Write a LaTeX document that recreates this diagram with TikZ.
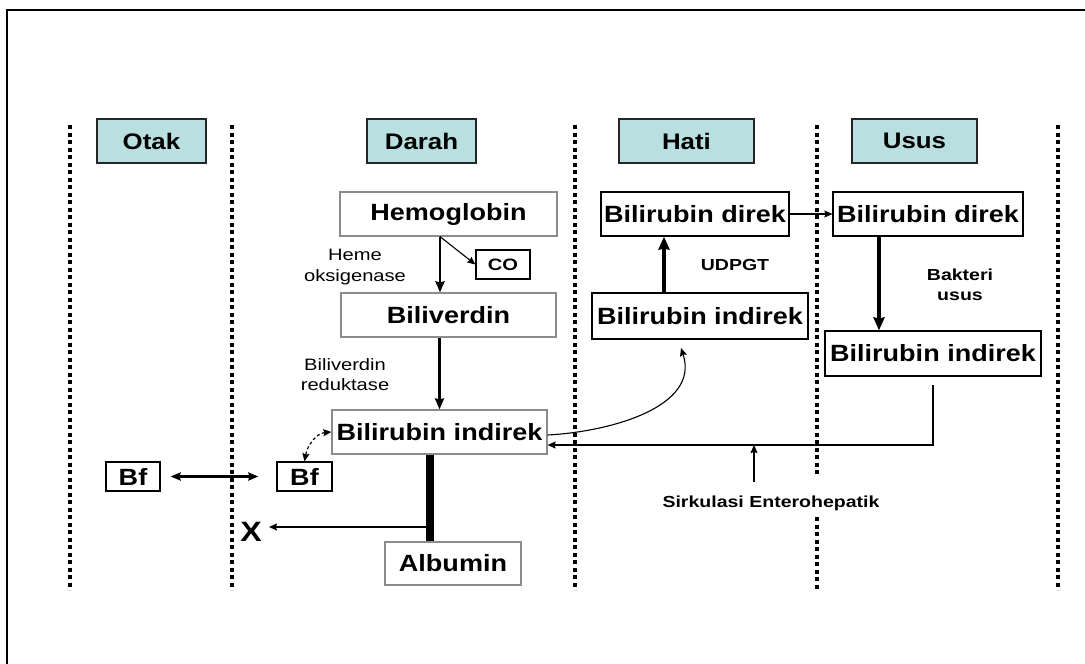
\documentclass[tikz,border=0pt]{standalone}
\usepackage{fontspec}
\setmainfont{Liberation Sans}
\newfontfamily\bigf[FakeStretch=1.15]{Liberation Sans}
\newfontfamily\smf[FakeStretch=1.22]{Liberation Sans}
\usetikzlibrary{arrows.meta,calc}
\definecolor{hdrcol}{HTML}{B9DFE0}
\definecolor{boxgray}{HTML}{8C8C8C}
\tikzset{
  hdr/.style={draw=black!85, fill=hdrcol, line width=1.2pt, minimum height=44pt, inner sep=0pt,
    font=\bigf\bfseries\fontsize{22.5}{27}\selectfont},
  gbox/.style={draw=boxgray, line width=1.2pt, inner sep=0pt,
    font=\bigf\bfseries\fontsize{23.5}{27}\selectfont},
  kbox/.style={draw=black, line width=1.2pt, inner sep=0pt,
    font=\bigf\bfseries\fontsize{23.5}{27}\selectfont},
  sbox/.style={draw=black, line width=1.2pt, inner sep=0pt,
    font=\smf\bfseries\fontsize{16.5}{18}\selectfont},
  lbl/.style={align=center, inner sep=0pt, font=\smf\fontsize{16.5}{20.5}\selectfont},
  blbl/.style={align=center, inner sep=0pt, font=\smf\bfseries\fontsize{16}{20}\selectfont},
  sep/.style={line width=4pt, dash pattern=on 4pt off 3.5pt},
  thin/.style={line width=1.3pt, -{Stealth[length=8pt,width=7pt,inset=1pt]}},
  mid/.style={line width=2.6pt, -{Stealth[length=11pt,width=9pt,inset=1pt]}},
  thick/.style={line width=3.6pt, -{Stealth[length=13pt,width=11pt,inset=1pt]}},
}
\begin{document}
\begin{tikzpicture}[x=1pt,y=-1pt]
\useasboundingbox (0,0) rectangle (1085,664);
% frame (top and left only)
\draw[line width=2.5pt] (1085,10) -- (7,10) -- (7,664);
% separators
\draw[sep] (70,125) -- (70,590);
\draw[sep] (232,125) -- (232,590);
\draw[sep] (575,125) -- (575,590);
\draw[sep] (817,125) -- (817,477);
\draw[sep] (817,517) -- (817,590);
\draw[sep] (1058,125) -- (1058,590);
% headers
\node[hdr, minimum width=109pt] (otak) at (151.5,141) {Otak};
\node[hdr, minimum width=109pt] (darah) at (421.5,141) {Darah};
\node[hdr, minimum width=135pt] (hati) at (686.5,141) {Hati};
\node[hdr, minimum width=125pt] (usus) at (914.5,141) {Usus};
% darah column
\node[gbox, minimum width=217pt, minimum height=44pt] (hemo) at (448.5,214) {Hemoglobin};
\node[sbox, minimum width=54pt, minimum height=29pt] (co) at (503,264.5) {CO};
\node[gbox, minimum width=215pt, minimum height=44pt] (biliv) at (448.5,315) {Biliverdin};
\node[gbox, minimum width=215pt, minimum height=44pt] (bilr) at (439.5,432) {Bilirubin indirek};
\node[gbox, minimum width=136pt, minimum height=43pt] (alb) at (453,563.5) {Albumin};
\node[kbox, minimum width=55pt, minimum height=29pt] (bfr) at (304.5,476.5) {Bf};
\node[kbox, minimum width=54pt, minimum height=29pt] (bfl) at (133,476.5) {Bf};
\node[inner sep=0pt, font=\bigf\bfseries\fontsize{28}{30}\selectfont] (x) at (251,532) {X};
\node[lbl] (heme) at (355,267) {Heme\\oksigenase};
\node[lbl] (bvr) at (345,374.5) {Biliverdin\\reduktase};
% hati column
\node[kbox, minimum width=188pt, minimum height=44pt] (hdir) at (695,214) {Bilirubin direk};
\node[kbox, minimum width=216pt, minimum height=46pt] (hind) at (700,316) {Bilirubin indirek};
\node[blbl] (udpgt) at (735,265) {UDPGT};
% usus column
\node[kbox, minimum width=190pt, minimum height=44pt] (udir) at (928,214) {Bilirubin direk};
\node[kbox, minimum width=216pt, minimum height=45pt] (uind) at (933,353.5) {Bilirubin indirek};
\node[blbl] (bakt) at (960,285) {Bakteri\\usus};
\node[blbl] (sirk) at (771,503) {Sirkulasi Enterohepatik};
% coordinates
\coordinate (hs) at ([xshift=-8.5pt]hemo.south);
\coordinate (bar) at ([xshift=-9.5pt]bilr.south);
\coordinate (xa) at (430,527);
\coordinate (ent) at (933,385);
\coordinate (entc) at (933,445);
\coordinate (sk) at (754,482);
\coordinate (curvend) at (681,348);
% connectors
\draw[mid] (hs) -- (hs |- biliv.north);
\draw[thin, line width=1.1pt] (hs) -- (co.west);
\draw[mid, line width=2.2pt] (biliv.south -| bilr.north) -- (bilr.north);
\draw[line width=8pt] (bar) -- (bar |- alb.north);
\draw[thin] (xa) -- ([xshift=7pt]xa -| x.east);
\draw[line width=2.4pt, {Stealth[length=10pt,width=8pt,inset=1pt]}-{Stealth[length=10pt,width=8pt,inset=1pt]}]
  ([xshift=10pt]bfl.east) -- ([xshift=-18pt]bfr.west);
\draw[line width=1.2pt, dashed, dash pattern=on 3pt off 2.5pt, {Stealth[length=8pt,width=7pt,inset=1pt]}-{Stealth[length=8pt,width=7pt,inset=1pt]}]
  (bilr.west) to[out=185, in=80] (bfr.north);
\draw[thick] ([xshift=-36pt]hind.north) -- ([xshift=-36pt]hind.north |- hdir.south);
\draw[thin, line width=1.1pt] (hdir.east) -- (udir.west);
\draw[thick] ([xshift=-49pt]udir.south) -- ([xshift=-49pt]udir.south |- uind.north);
\draw[thin, line width=1.1pt] ([yshift=-3pt]bilr.east) to[out=3, in=-72] (curvend);
\draw[thin] (ent) -- (entc) -- (entc -| bilr.east);
\draw[thin] (sk) -- (sk |- entc);
\end{tikzpicture}
\end{document}
